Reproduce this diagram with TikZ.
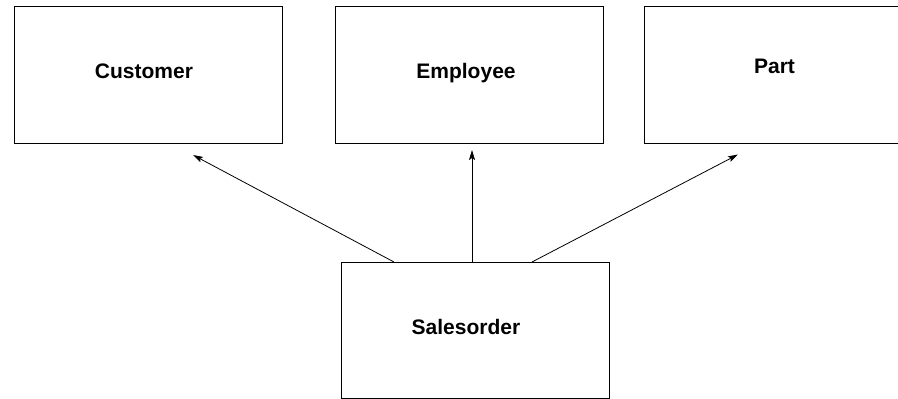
\documentclass[tikz,border=0pt]{standalone}
\usepackage{fontspec}
\setmainfont{Liberation Sans}
\usetikzlibrary{arrows.meta}
\begin{document}
\begin{tikzpicture}[x=1pt,y=-1pt,
  box/.style={draw=black, line width=0.9pt, inner sep=0pt},
  lbl/.style={font=\bfseries\fontsize{21}{25}\selectfont, anchor=base, inner sep=0pt},
  link/.style={line width=0.8pt, -{Stealth[length=10pt,width=6pt,inset=2pt]}}]
\useasboundingbox (0,0) rectangle (898,399);
\clip (0,0) rectangle (898,399);
\node[box, minimum width=268pt, minimum height=137pt] (customer) at (148,74.5) {};
\node[box, minimum width=268pt, minimum height=137pt] (employee) at (469,74.5) {};
\node[box, minimum width=262pt, minimum height=137pt] (part) at (775,74.5) {};
\node[box, minimum width=268pt, minimum height=136pt] (salesorder) at (475,330) {};
\node[lbl] (tcustomer) at (144,78) {Customer};
\node[lbl] (temployee) at (466,78) {Employee};
\node[lbl] (tpart) at (774.5,73) {Part};
\node[lbl] (tsalesorder) at (466,334) {Salesorder};
\coordinate (s1) at (394,262);
\coordinate (s2) at (472,262);
\coordinate (s3) at (532,262);
\coordinate (e1) at (193,155);
\coordinate (e2) at (472,150);
\coordinate (e3) at (738,154.5);
\draw[link] (s1) -- (e1);
\draw[link] (s2) -- (e2);
\draw[link] (s3) -- (e3);
\end{tikzpicture}
\end{document}
